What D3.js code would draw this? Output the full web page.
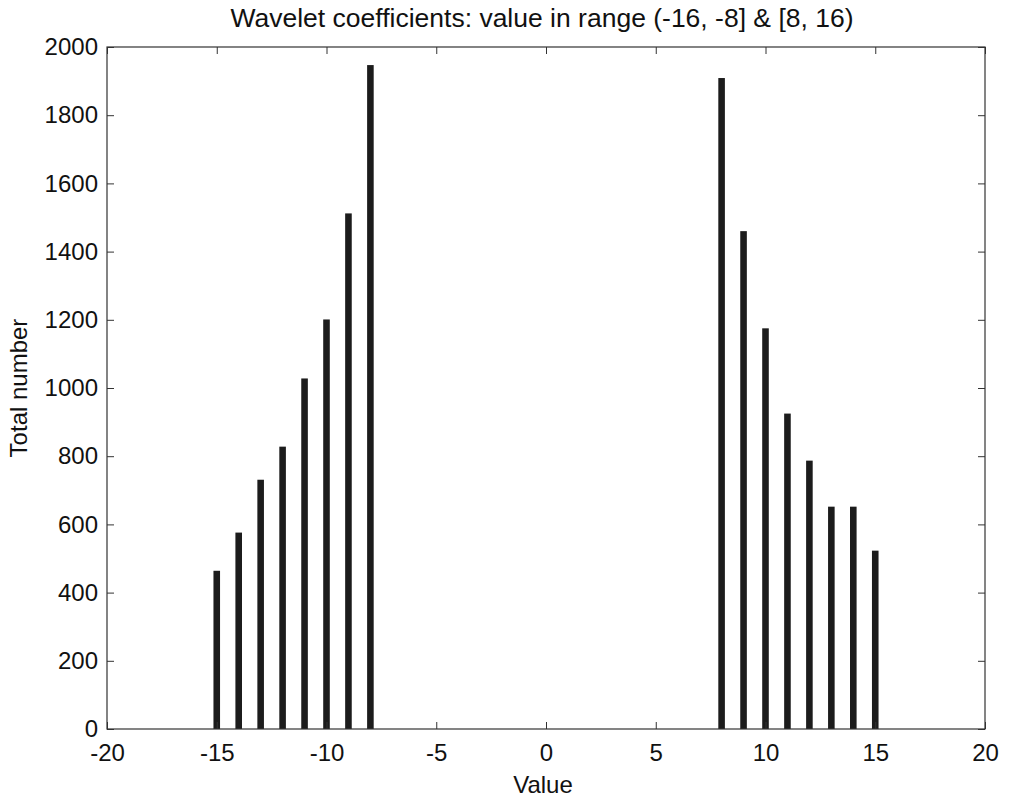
<!DOCTYPE html>
<html lang="en">
<head>
  <meta charset="UTF-8">
  <title>Wavelet coefficients</title>
  <style>
    body, html { margin: 0; padding: 0; background: #fff; font-family: "Liberation Sans", Arial, sans-serif; }
  </style>
</head>
<body>
  <svg id="svg" width="1010" height="802"></svg>

  <script src="https://cdn.jsdelivr.net/npm/d3@7"></script>
  <script>
    // values
    const values = [-15, -14, -13, -12, -11, -10, -9, -8, 8, 9, 10, 11, 12, 13, 14, 15]
    const counts = [464, 576, 731, 828, 1028, 1201, 1512, 1947, 1909, 1460, 1175, 925, 787, 652, 652, 523]
    const xTicks = [-20, -15, -10, -5, 0, 5, 10, 15, 20]
    const yTicks = [0, 200, 400, 600, 800, 1000, 1200, 1400, 1600, 1800, 2000]

    const data = values.map((v, i) => ({ value: v, count: counts[i] }))

    const plotLeft = 107, plotRight = 985, plotTop = 47, plotBottom = 729
    const svg = d3.select('#svg')

    const x = d3.scaleLinear().domain([-20, 20]).range([plotLeft, plotRight])
    const y = d3.scaleLinear().domain([0, 2000]).range([plotBottom, plotTop])
    const barW = x(0.3) - x(0)
    const fmt = d => String(d)   // plain hyphen, no thousands separator

    // bars
    svg.append('g')
      .selectAll('rect')
      .data(data)
      .enter()
      .append('rect')
      .attr('x', d => x(d.value) - barW / 2)
      .attr('y', d => y(d.count))
      .attr('width', barW)
      .attr('height', d => y(0) - y(d.count))
      .attr('fill', '#1c1c1c')

    const tickLen = 7
    const styleAxis = g => {
      g.select('.domain').remove()
      g.selectAll('.tick line').attr('stroke', '#333')
      g.selectAll('.tick text')
        .attr('fill', '#111')
        .style('font-size', '24px')
        .style('font-family', '"Liberation Sans", Arial, sans-serif')
    }

    svg.append('g')
      .attr('transform', `translate(0,${plotBottom})`)
      .call(d3.axisBottom(x).tickValues(xTicks).tickSize(-tickLen).tickPadding(15).tickFormat(fmt))
      .call(styleAxis)

    svg.append('g')
      .attr('transform', `translate(0,${plotTop})`)
      .call(d3.axisTop(x).tickValues(xTicks).tickSize(-tickLen).tickFormat(''))
      .call(styleAxis)

    svg.append('g')
      .attr('transform', `translate(${plotLeft},0)`)
      .call(d3.axisLeft(y).tickValues(yTicks).tickSize(-tickLen).tickPadding(9).tickFormat(fmt))
      .call(styleAxis)

    svg.append('g')
      .attr('transform', `translate(${plotRight},0)`)
      .call(d3.axisRight(y).tickValues(yTicks).tickSize(-tickLen).tickFormat(''))
      .call(styleAxis)

    // box
    svg.append('rect')
      .attr('x', plotLeft)
      .attr('y', plotTop)
      .attr('width', plotRight - plotLeft)
      .attr('height', plotBottom - plotTop)
      .attr('fill', 'none')
      .attr('stroke', '#333')
      .attr('stroke-width', 1.2)

    // title and labels
    svg.append('text')
      .text('Wavelet coefficients: value in range (-16, -8] & [8, 16)')
      .attr('x', 542)
      .attr('y', 27)
      .attr('text-anchor', 'middle')
      .style('font-size', '26.5px')
      .attr('fill', '#111')

    svg.append('text')
      .text('Value')
      .attr('x', 543)
      .attr('y', 793)
      .attr('text-anchor', 'middle')
      .style('font-size', '24px')
      .attr('fill', '#111')

    svg.append('text')
      .text('Total number')
      .attr('transform', `translate(27,388) rotate(-90)`)
      .attr('text-anchor', 'middle')
      .style('font-size', '24px')
      .attr('fill', '#111')
  </script>
</body>
</html>
